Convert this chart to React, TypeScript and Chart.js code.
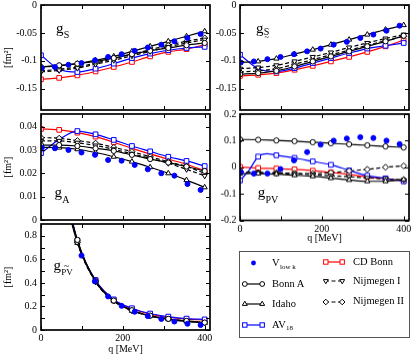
import React, { useEffect, useRef } from 'react';
import { Chart, registerables } from 'chart.js';

Chart.register(...registerables);

const FONT = "'Liberation Serif', 'Times New Roman', Times, serif";

// ---------- momentum grids [MeV] ----------
const qModel = [0, 44.4, 88.9, 133.3, 177.8, 222.2, 266.7, 311.1, 355.6, 400];
const qVlowk = [2, 34, 67, 99, 132, 164, 197, 229, 261, 294, 326, 358, 390];
const qAv18Pv = [0, 22, 44.4, 66, 88.9, 133.3, 177.8, 222.2, 266.7, 311.1, 355.6, 400];
const qAv18PvHidden = [22, 66];
const qVlowkPvt = [99, 132, 164, 197, 229, 261, 294, 326, 358, 390];

// ---------- tick values ----------
const xTickMarks = [0, 100, 200, 300, 400];
const xTickLabels = [0, 200, 400];
const gsTicks = [0, -0.05, -0.1, -0.15];
const gaTicks = [0.04, 0.03, 0.02, 0.01, 0];
const gpvTicks = [0.2, 0.1, 0, -0.1, -0.2];
const gpvtTickLabels = [0.8, 0.6, 0.4, 0.2, 0];
const gpvtTickMarks = [0.8, 0.7, 0.6, 0.5, 0.4, 0.3, 0.2, 0.1, 0];

// ---------- g_S ----------
const gsVlowk = [-0.113, -0.111, -0.107, -0.104, -0.099, -0.093, -0.088, -0.082, -0.076, -0.071, -0.065, -0.059, -0.052];
const gsBonnA = [-0.111, -0.108, -0.105, -0.101, -0.095, -0.088, -0.082, -0.077, -0.072, -0.068];
const gsIdaho = [-0.111, -0.109, -0.105, -0.099, -0.092, -0.083, -0.074, -0.065, -0.056, -0.047];
const gsAV18 = [-0.090, -0.115, -0.120, -0.114, -0.105, -0.095, -0.087, -0.081, -0.077, -0.075];
const gsCDBonn = [-0.133, -0.1305, -0.126, -0.119, -0.111, -0.102, -0.092, -0.084, -0.079, -0.071];
const gsNijm1 = [-0.120, -0.117, -0.113, -0.106, -0.099, -0.091, -0.083, -0.075, -0.068, -0.062];
const gsNijm2 = [-0.118, -0.115, -0.111, -0.104, -0.096, -0.088, -0.080, -0.072, -0.065, -0.059];

// ---------- g_S~ ----------
const gstVlowk = [-0.103, -0.101, -0.097, -0.093, -0.088, -0.083, -0.078, -0.071, -0.066, -0.059, -0.053, -0.046, -0.037];
const gstBonnA = [-0.124, -0.122, -0.118, -0.110, -0.101, -0.092, -0.083, -0.074, -0.065, -0.055];
const gstIdaho = [-0.103, -0.101, -0.096, -0.088, -0.080, -0.071, -0.062, -0.053, -0.044, -0.036];
const gstAV18 = [-0.089, -0.114, -0.119, -0.113, -0.104, -0.095, -0.086, -0.078, -0.073, -0.068];
const gstCDBonn = [-0.127, -0.125, -0.122, -0.116, -0.109, -0.101, -0.093, -0.084, -0.074, -0.063];
const gstNijm1 = [-0.114, -0.112, -0.108, -0.101, -0.093, -0.085, -0.076, -0.068, -0.060, -0.053];
const gstNijm2 = [-0.120, -0.118, -0.114, -0.106, -0.098, -0.089, -0.081, -0.072, -0.064, -0.056];

// ---------- g_A ----------
const gaVlowk = [0.0310, 0.0307, 0.0300, 0.0289, 0.0279, 0.0257, 0.0254, 0.0236, 0.0217, 0.0200, 0.0190, 0.0154, 0.0129];
const gaBonnA = [0.0321, 0.0321, 0.0317, 0.0307, 0.0296, 0.0279, 0.0261, 0.0246, 0.0229, 0.0210];
const gaIdaho = [0.0311, 0.0310, 0.0303, 0.0289, 0.0271, 0.0250, 0.0226, 0.0200, 0.0171, 0.0140];
const gaAV18 = [0.0286, 0.0345, 0.0381, 0.0367, 0.0343, 0.0317, 0.0294, 0.0271, 0.0253, 0.0231];
const gaCDBonn = [0.0390, 0.0386, 0.0374, 0.0357, 0.0333, 0.0307, 0.0283, 0.0260, 0.0239, 0.0211];
const gaNijm1 = [0.0339, 0.0339, 0.0331, 0.0319, 0.0303, 0.0284, 0.0264, 0.0243, 0.0217, 0.0189];
const gaNijm2 = [0.0353, 0.0350, 0.0340, 0.0329, 0.0311, 0.0293, 0.0271, 0.0250, 0.0229, 0.0200];

// ---------- g_PV ----------
const gpvVlowk = [-0.018, -0.024, -0.024, -0.007, 0.026, 0.057, 0.085, 0.100, 0.108, 0.113, 0.110, 0.100, 0.087];
const gpvBonnA = [0.1046, 0.1033, 0.1007, 0.098, 0.0941, 0.0902, 0.0863, 0.0824, 0.0784, 0.0745];
const gpvIdaho = [-0.024, -0.024, -0.026, -0.030, -0.034, -0.041, -0.048, -0.053, -0.053, -0.046];
const gpvAV18 = [-0.050, -0.012, 0.040, 0.051, 0.045, 0.035, 0.022, 0.009, -0.012, -0.032, -0.042, -0.053];
const gpvCDBonn = [0.001, -0.003, -0.005, -0.008, -0.013, -0.020, -0.027, -0.037, -0.043, -0.052];
const gpvNijm1 = [-0.018, -0.020, -0.023, -0.025, -0.028, -0.032, -0.036, -0.040, -0.044, -0.048];
const gpvNijm2 = [-0.017, -0.020, -0.021, -0.023, -0.024, -0.021, -0.014, -0.008, 0.000, 0.005];

// ---------- g_PV~ ----------
const gpvtVlowk = [0.632, 0.413, 0.285, 0.205, 0.155, 0.118, 0.094, 0.072, 0.053, 0.042];
const gpvtBonnA = [2.2, 1.4, 0.765, 0.415, 0.250, 0.168, 0.122, 0.095, 0.077, 0.063];
const gpvtIdaho = [2.1, 1.35, 0.740, 0.410, 0.245, 0.163, 0.118, 0.091, 0.073, 0.059];
const gpvtAV18 = [2.3, 1.45, 0.760, 0.425, 0.260, 0.185, 0.140, 0.114, 0.097, 0.090];
const gpvtCDBonn = [2.25, 1.42, 0.755, 0.420, 0.255, 0.180, 0.135, 0.108, 0.092, 0.085];
const gpvtNijm1 = [2.2, 1.4, 0.750, 0.412, 0.248, 0.166, 0.121, 0.094, 0.076, 0.062];
const gpvtNijm2 = [2.2, 1.4, 0.745, 0.410, 0.246, 0.165, 0.120, 0.093, 0.075, 0.061];

// ---------- styles ----------
type Sty = { color: string; style: string; r: number; rot?: number; dash?: number[]; fill?: boolean; noLine?: boolean };
const STY: Record<string, Sty> = {
  vlowk: { color: '#0000ff', style: 'circle', r: 2.5, fill: true, noLine: true },
  bonnA: { color: '#000000', style: 'circle', r: 2.6 },
  idaho: { color: '#000000', style: 'triangle', r: 3.0 },
  av18: { color: '#0000ff', style: 'rect', r: 3.3 },
  cdBonn: { color: '#ff0000', style: 'rect', r: 3.3 },
  nijm1: { color: '#000000', style: 'triangle', r: 3.0, rot: 180, dash: [4, 2.5] },
  nijm2: { color: '#000000', style: 'rectRot', r: 3.0, dash: [4, 2.5] },
};

type Series = { key: string; q: number[]; v: number[]; hidden?: number[] };
type PanelSpec = {
  id: string; L: number; T: number; W: number; H: number;
  yw: number; pt: number; pr: number; xh: number; ypad: number;
  ymin: number; ymax: number; yLabels: number[]; yMarks: number[];
  showX: boolean; showYTitle: boolean; series: Series[];
};

function makeDataset(s: Series) {
  const st = STY[s.key];
  return {
    label: s.key,
    data: s.q.map((x, i) => ({ x, y: s.v[i] })),
    showLine: !st.noLine,
    borderColor: st.color,
    backgroundColor: st.fill ? st.color : '#ffffff',
    borderWidth: 1.2,
    borderDash: st.dash ?? [],
    pointStyle: st.style,
    pointRadius: s.hidden ? s.q.map((x) => (s.hidden!.includes(x) ? 0 : st.r)) : st.r,
    pointRotation: st.rot ?? 0,
    pointBackgroundColor: st.fill ? st.color : '#ffffff',
    pointBorderColor: st.color,
    pointBorderWidth: 1,
    cubicInterpolationMode: 'monotone',
    fill: false,
  };
}

const fmt = (v: number) => String(Math.round(v * 1000) / 1000);

const frameTicks = {
  id: 'frameTicks',
  afterDraw(chart: any, _args: any, opts: any) {
    const { ctx, chartArea: a, scales } = chart;
    const len = 4;
    ctx.save();
    ctx.strokeStyle = '#000';
    ctx.lineWidth = 1;
    ctx.setLineDash([]);
    ctx.beginPath();
    for (const v of opts.xMarks) {
      const px = Math.round(scales.x.getPixelForValue(v)) + 0.5;
      ctx.moveTo(px, a.bottom); ctx.lineTo(px, a.bottom - len);
      ctx.moveTo(px, a.top); ctx.lineTo(px, a.top + len);
    }
    for (const v of opts.yMarks) {
      const py = Math.round(scales.y.getPixelForValue(v)) + 0.5;
      ctx.moveTo(a.left, py); ctx.lineTo(a.left + len, py);
      ctx.moveTo(a.right, py); ctx.lineTo(a.right - len, py);
    }
    ctx.stroke();
    ctx.lineWidth = 1.7;
    ctx.strokeRect(a.left, a.top, a.right - a.left, a.bottom - a.top);
    ctx.restore();
  },
};

const PANELS: PanelSpec[] = [
  {
    id: 'gs', L: 41, T: 4, W: 170, H: 106, yw: 41, pt: 4, pr: 4, xh: 7, ypad: 4,
    ymin: -0.188, ymax: 0, yLabels: gsTicks, yMarks: gsTicks, showX: false, showYTitle: true,
    series: [
      { key: 'vlowk', q: qVlowk, v: gsVlowk },
      { key: 'bonnA', q: qModel, v: gsBonnA },
      { key: 'idaho', q: qModel, v: gsIdaho },
      { key: 'nijm1', q: qModel, v: gsNijm1 },
      { key: 'nijm2', q: qModel, v: gsNijm2 },
      { key: 'av18', q: qModel, v: gsAV18 },
      { key: 'cdBonn', q: qModel, v: gsCDBonn },
    ],
  },
  {
    id: 'gst', L: 240, T: 4, W: 170, H: 106, yw: 32, pt: 4, pr: 4, xh: 7, ypad: 3.5,
    ymin: -0.188, ymax: 0, yLabels: gsTicks, yMarks: gsTicks, showX: false, showYTitle: false,
    series: [
      { key: 'vlowk', q: qVlowk, v: gstVlowk },
      { key: 'bonnA', q: qModel, v: gstBonnA },
      { key: 'idaho', q: qModel, v: gstIdaho },
      { key: 'nijm1', q: qModel, v: gstNijm1 },
      { key: 'nijm2', q: qModel, v: gstNijm2 },
      { key: 'av18', q: qModel, v: gstAV18 },
      { key: 'cdBonn', q: qModel, v: gstCDBonn },
    ],
  },
  {
    id: 'ga', L: 41, T: 114, W: 170, H: 106, yw: 41, pt: 8, pr: 4, xh: 7, ypad: 4,
    ymin: 0, ymax: 0.0454, yLabels: gaTicks, yMarks: gaTicks, showX: false, showYTitle: true,
    series: [
      { key: 'vlowk', q: qVlowk, v: gaVlowk },
      { key: 'bonnA', q: qModel, v: gaBonnA },
      { key: 'idaho', q: qModel, v: gaIdaho },
      { key: 'nijm1', q: qModel, v: gaNijm1 },
      { key: 'nijm2', q: qModel, v: gaNijm2 },
      { key: 'av18', q: qModel, v: gaAV18 },
      { key: 'cdBonn', q: qModel, v: gaCDBonn },
    ],
  },
  {
    id: 'gpv', L: 240, T: 114, W: 170, H: 106, yw: 32, pt: 8, pr: 4, xh: 23.5, ypad: 3.5,
    ymin: -0.2, ymax: 0.2, yLabels: gpvTicks, yMarks: gpvTicks, showX: true, showYTitle: false,
    series: [
      { key: 'vlowk', q: qVlowk, v: gpvVlowk },
      { key: 'bonnA', q: qModel, v: gpvBonnA },
      { key: 'idaho', q: qModel, v: gpvIdaho },
      { key: 'nijm1', q: qModel, v: gpvNijm1 },
      { key: 'nijm2', q: qModel, v: gpvNijm2 },
      { key: 'av18', q: qAv18Pv, v: gpvAV18, hidden: qAv18PvHidden },
      { key: 'cdBonn', q: qModel, v: gpvCDBonn },
    ],
  },
  {
    id: 'gpvt', L: 41, T: 224, W: 170, H: 106, yw: 41, pt: 8, pr: 4, xh: 25, ypad: 4,
    ymin: 0, ymax: 0.9, yLabels: gpvtTickLabels, yMarks: gpvtTickMarks, showX: true, showYTitle: true,
    series: [
      { key: 'vlowk', q: qVlowkPvt, v: gpvtVlowk },
      { key: 'bonnA', q: qModel, v: gpvtBonnA },
      { key: 'idaho', q: qModel, v: gpvtIdaho },
      { key: 'nijm1', q: qModel, v: gpvtNijm1 },
      { key: 'nijm2', q: qModel, v: gpvtNijm2 },
      { key: 'av18', q: qModel, v: gpvtAV18 },
      { key: 'cdBonn', q: qModel, v: gpvtCDBonn },
    ],
  },
];

function Panel({ p }: { p: PanelSpec }) {
  const ref = useRef<HTMLCanvasElement>(null);
  const cw = p.yw + p.W + p.pr;
  const ch = p.pt + p.H + p.xh;
  useEffect(() => {
    const font = { family: FONT, size: 10 };
    const chart = new Chart(ref.current as HTMLCanvasElement, {
      type: 'line',
      data: { datasets: p.series.map(makeDataset) as any },
      options: {
        animation: false,
        responsive: false,
        maintainAspectRatio: false,
        events: [],
        layout: { padding: { left: 0, top: p.pt, right: p.pr, bottom: 0 } },
        plugins: {
          legend: { display: false },
          tooltip: { enabled: false },
          frameTicks: { xMarks: xTickMarks, yMarks: p.yMarks },
        } as any,
        scales: {
          x: {
            type: 'linear', min: 0, max: 413,
            afterBuildTicks: (s: any) => { s.ticks = xTickLabels.map((value) => ({ value })); },
            ticks: { display: p.showX, autoSkip: false, maxRotation: 0, padding: 2.5, color: '#000', font, callback: (v: any) => String(v) },
            grid: { display: false, drawTicks: false },
            border: { display: false },
            title: { display: p.showX, text: 'q [MeV]', color: '#000', font, padding: 0 },
            afterFit: (s: any) => { s.height = p.xh; s.paddingLeft = 0; s.paddingRight = 0; s.paddingTop = 0; s.paddingBottom = 0; },
          },
          y: {
            type: 'linear', min: p.ymin, max: p.ymax,
            afterBuildTicks: (s: any) => { s.ticks = p.yLabels.map((value) => ({ value })); },
            ticks: { autoSkip: false, padding: p.ypad, color: '#000', font, callback: (v: any) => fmt(Number(v)) },
            grid: { display: false, drawTicks: false },
            border: { display: false },
            title: { display: p.showYTitle, text: '[fm²]', color: '#000', font, padding: { top: 2.5, bottom: 0 } },
            afterFit: (s: any) => { s.width = p.yw; s.paddingLeft = 0; s.paddingRight = 0; s.paddingTop = 0; s.paddingBottom = 0; },
          },
        } as any,
      },
      plugins: [frameTicks as any],
    });
    return () => chart.destroy();
  }, [p]);
  return (
    <canvas
      ref={ref}
      width={cw}
      height={ch}
      style={{ position: 'absolute', left: p.L - p.yw, top: p.T - p.pt, width: cw, height: ch }}
    />
  );
}

// text positioned by its baseline
function Txt({ x, base, size, children }: { x: number; base: number; size: number; children: React.ReactNode }) {
  return (
    <span
      style={{
        position: 'absolute', left: x, top: base - 0.8375 * size, fontSize: size, lineHeight: `${size}px`,
        fontFamily: FONT, color: '#000', whiteSpace: 'nowrap',
      }}
    >
      {children}
    </span>
  );
}

function Marker({ kind, cx, cy }: { kind: string; cx: number; cy: number }) {
  const st = STY[kind];
  const c = st.color;
  if (kind === 'vlowk') return <circle cx={cx} cy={cy} r={2.4} fill={c} />;
  if (st.style === 'circle') return <circle cx={cx} cy={cy} r={2.4} fill="#fff" stroke={c} strokeWidth={1} />;
  if (st.style === 'rect') return <rect x={cx - 2.2} y={cy - 2.2} width={4.4} height={4.4} fill="#fff" stroke={c} strokeWidth={1} />;
  if (st.style === 'rectRot') return <polygon points={`${cx},${cy - 2.8} ${cx + 2.8},${cy} ${cx},${cy + 2.8} ${cx - 2.8},${cy}`} fill="#fff" stroke={c} strokeWidth={1} />;
  if (st.rot === 180) return <polygon points={`${cx - 2.5},${cy - 1.4} ${cx + 2.5},${cy - 1.4} ${cx},${cy + 2.8}`} fill="#fff" stroke={c} strokeWidth={1} />;
  return <polygon points={`${cx - 2.5},${cy + 1.4} ${cx + 2.5},${cy + 1.4} ${cx},${cy - 2.8}`} fill="#fff" stroke={c} strokeWidth={1} />;
}

function Swatch({ kind, x, y, w }: { kind: string; x: number; y: number; w: number }) {
  const st = STY[kind];
  return (
    <svg style={{ position: 'absolute', left: x, top: y - 5 }} width={w} height={10}>
      {kind === 'vlowk' ? (
        <Marker kind={kind} cx={w / 2} cy={5} />
      ) : (
        <>
          <line x1={2} y1={5} x2={w - 2} y2={5} stroke={st.color} strokeWidth={1.2} strokeDasharray={st.dash ? st.dash.join(' ') : undefined} />
          <Marker kind={kind} cx={2.8} cy={5} />
          <Marker kind={kind} cx={w - 2.8} cy={5} />
        </>
      )}
    </svg>
  );
}

export default function App() {
  useEffect(() => {
    document.body.style.margin = '0';
  }, []);
  return (
    <div style={{ position: 'absolute', left: 0, top: 0, width: 415, height: 355, background: '#fff', overflow: 'hidden', fontFamily: FONT }}>
      {PANELS.map((p) => (
        <Panel key={p.id} p={p} />
      ))}

      {/* panel labels */}
      <Txt x={56} base={34} size={15}>g</Txt>
      <Txt x={63.8} base={38.6} size={10}>S</Txt>

      <Txt x={256} base={34} size={15}>g</Txt>
      <Txt x={263.8} base={35.5} size={10}>S</Txt>
      <Txt x={264.5} base={40} size={8.5}>~</Txt>

      <Txt x={54.5} base={198} size={15}>g</Txt>
      <Txt x={62.3} base={203.6} size={10}>A</Txt>

      <Txt x={257.8} base={198} size={15}>g</Txt>
      <Txt x={265.5} base={203.6} size={10}>PV</Txt>

      <Txt x={53.5} base={271} size={15}>g</Txt>
      <Txt x={61.2} base={275.6} size={9}>PV</Txt>
      <Txt x={64} base={270.4} size={9.5}>~</Txt>

      {/* legend */}
      <div style={{ position: 'absolute', left: 239, top: 251, width: 171, height: 87, border: '1px solid #555', boxSizing: 'border-box' }} />
      <Swatch kind="vlowk" x={242} y={263} w={23} />
      <Txt x={272} base={266.7} size={10.5}>V</Txt>
      <Txt x={280} base={269.5} size={7}>low k</Txt>

      <Swatch kind="bonnA" x={242} y={284} w={23} />
      <Txt x={272} base={288} size={10.5}>Bonn A</Txt>

      <Swatch kind="idaho" x={242} y={303.5} w={23} />
      <Txt x={272} base={307.5} size={10.5}>Idaho</Txt>

      <Swatch kind="av18" x={242} y={325} w={23} />
      <Txt x={272} base={328.3} size={10.5}>AV</Txt>
      <Txt x={286} base={331} size={7}>18</Txt>

      <Swatch kind="cdBonn" x={323} y={262} w={22} />
      <Txt x={353} base={265.5} size={10.5}>CD Bonn</Txt>

      <Swatch kind="nijm1" x={323} y={281} w={22} />
      <Txt x={353} base={284.8} size={10.5}>Nijmegen I</Txt>

      <Swatch kind="nijm2" x={323} y={301.5} w={22} />
      <Txt x={353} base={305.2} size={10.5}>Nijmegen II</Txt>
    </div>
  );
}
